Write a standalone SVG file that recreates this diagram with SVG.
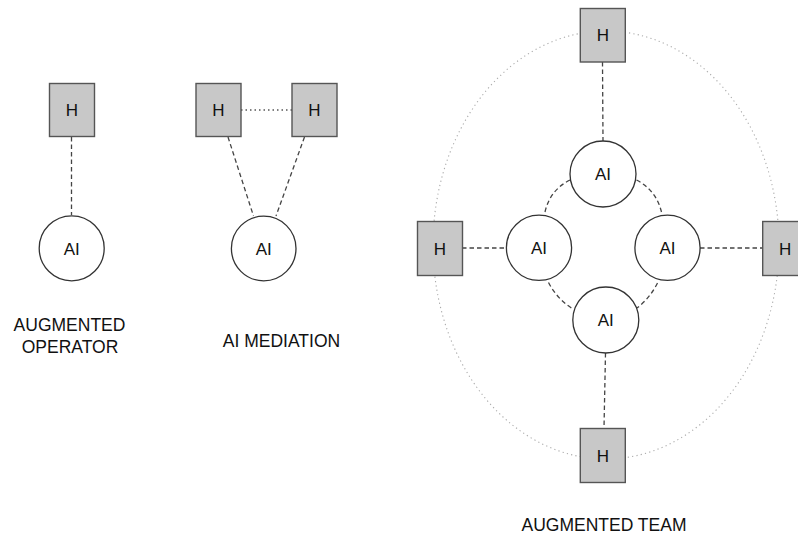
<svg xmlns="http://www.w3.org/2000/svg" width="798" height="533" viewBox="0 0 798 533">
<style>
.h rect{fill:#c8c8c8;stroke:#555;stroke-width:1.4}
.ai circle{fill:#fff;stroke:#333;stroke-width:1.3}
text{font-family:"Liberation Sans",Arial,sans-serif;fill:#111;text-anchor:middle}
.lbl{font-size:17px}
.cap{font-size:17.5px}
.dash{fill:none;stroke:#444;stroke-width:1.3;stroke-dasharray:4.5 3}
.dot{fill:none;stroke:#555;stroke-width:1.3;stroke-dasharray:1.5 3}
.ring{fill:none;stroke:#aaa;stroke-width:1.1;stroke-dasharray:1.2 3.2}
</style>
<rect width="798" height="533" fill="#fff"/>
<ellipse class="ring" cx="606" cy="245" rx="173" ry="214"/>
<g id="connectors">
<line class="dash" x1="71.5" y1="137" x2="71.5" y2="215"/>
<line class="dot" x1="241" y1="110" x2="292" y2="110"/>
<line class="dash" x1="228" y1="137" x2="253.5" y2="216"/>
<line class="dash" x1="304.5" y1="137" x2="276" y2="216"/>
<line class="dash" x1="602.5" y1="62" x2="603" y2="141"/>
<line class="dash" x1="462" y1="248" x2="506" y2="248"/>
<line class="dash" x1="700" y1="248" x2="763" y2="248"/>
<line class="dash" x1="605.5" y1="353" x2="604" y2="428"/>
<path class="dash" d="M570,180 Q550,190 545,212"/>
<path class="dash" d="M636.5,180 Q656,190 661.5,212"/>
<path class="dash" d="M548.5,282.5 Q557,299 573,309"/>
<path class="dash" d="M657.5,283 Q650,298 637,308"/>
</g>
<g id="op-h" class="h"><rect x="49.5" y="83.5" width="45" height="53"/><text class="lbl" x="72" y="116">H</text></g>
<g id="op-ai" class="ai"><circle cx="71.7" cy="248.3" r="32.5"/><text class="lbl" x="71.7" y="254.5">AI</text></g>
<g id="med-h1" class="h"><rect x="196" y="83.5" width="45" height="53"/><text class="lbl" x="218.5" y="116">H</text></g>
<g id="med-h2" class="h"><rect x="292" y="83.5" width="45" height="53"/><text class="lbl" x="314.5" y="116">H</text></g>
<g id="med-ai" class="ai"><circle cx="263.7" cy="248.5" r="32.3"/><text class="lbl" x="263.7" y="254.7">AI</text></g>
<g id="team-h-top" class="h"><rect x="580.3" y="8.5" width="45" height="53.5"/><text class="lbl" x="602.8" y="41.3">H</text></g>
<g id="team-h-left" class="h"><rect x="417.5" y="221.5" width="45" height="54"/><text class="lbl" x="440" y="254.5">H</text></g>
<g id="team-h-right" class="h"><rect x="762.7" y="221.5" width="45" height="54"/><text class="lbl" x="785.2" y="254.5">H</text></g>
<g id="team-h-bottom" class="h"><rect x="580.3" y="428.5" width="45" height="54"/><text class="lbl" x="602.8" y="461.5">H</text></g>
<g id="team-ai-top" class="ai"><circle cx="603" cy="174" r="33"/><text class="lbl" x="603" y="180.2">AI</text></g>
<g id="team-ai-left" class="ai"><circle cx="539" cy="247.8" r="32.6"/><text class="lbl" x="539" y="254">AI</text></g>
<g id="team-ai-right" class="ai"><circle cx="667.5" cy="247.8" r="32.6"/><text class="lbl" x="667.5" y="254">AI</text></g>
<g id="team-ai-bottom" class="ai"><circle cx="605.8" cy="320" r="33"/><text class="lbl" x="605.8" y="326.2">AI</text></g>
<g id="captions">
<text class="cap" x="69.5" y="331">AUGMENTED</text>
<text class="cap" x="70" y="353">OPERATOR</text>
<text class="cap" x="281.5" y="347">AI MEDIATION</text>
<text class="cap" x="604" y="530.5">AUGMENTED TEAM</text>
</g>
</svg>
